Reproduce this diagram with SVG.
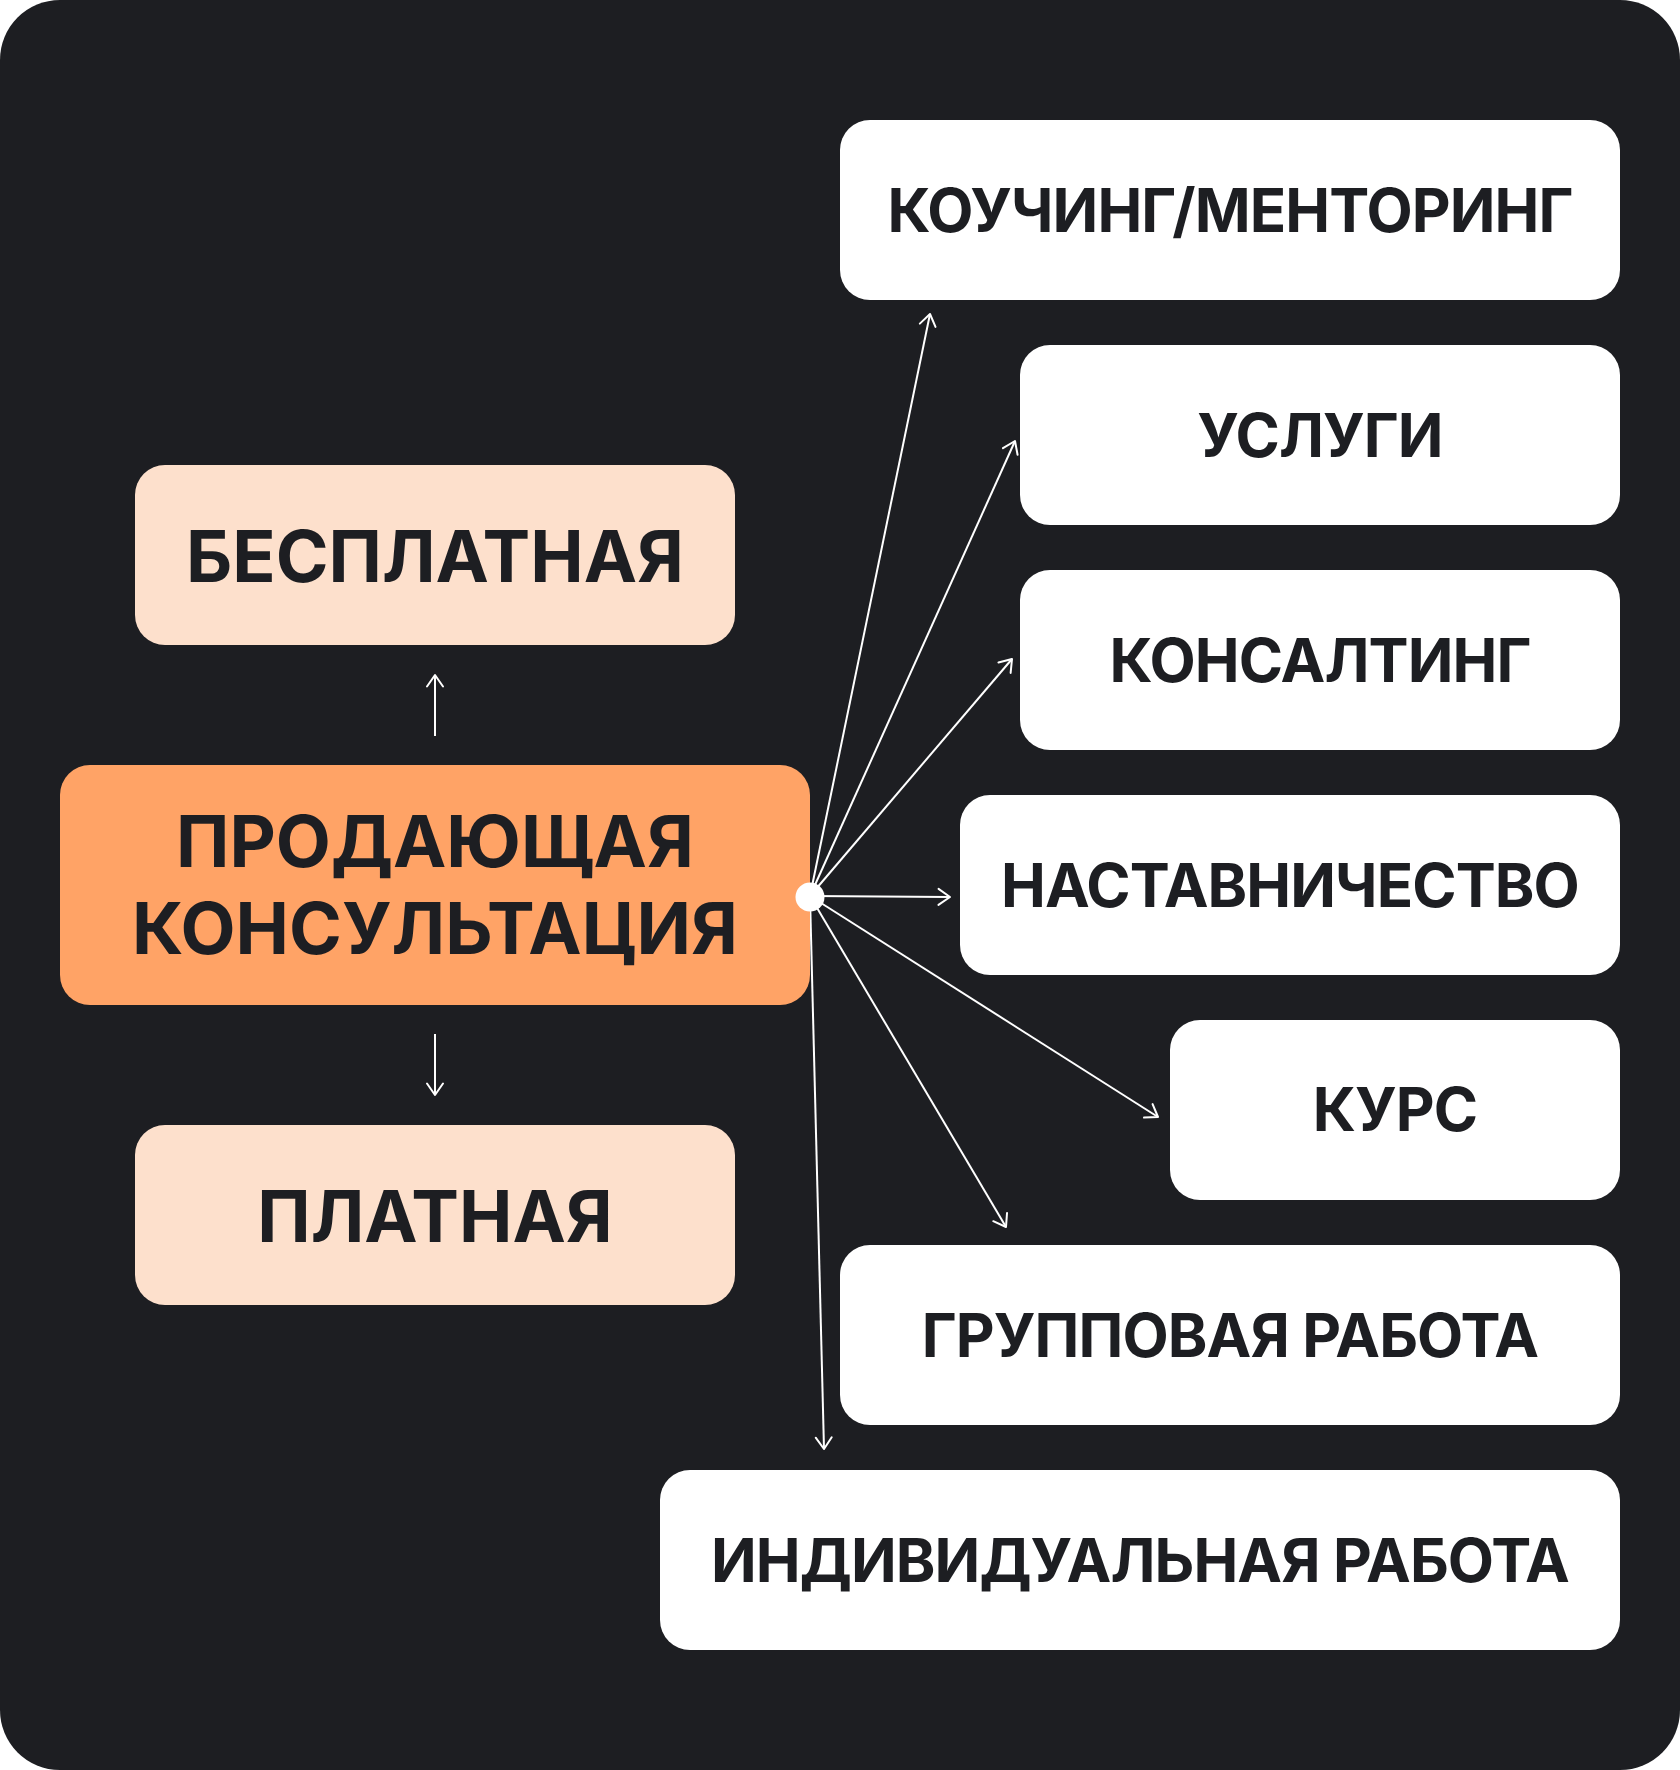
<svg xmlns="http://www.w3.org/2000/svg" width="1680" height="1770" viewBox="0 0 1680 1770">
  <style>
    .lbl { font-family: Inter, "Liberation Sans", sans-serif; font-weight: 700; fill: #1d1e22; text-anchor: middle; }
    .big { font-size: 71.5px; }
    .sm { font-size: 60px; letter-spacing: -0.9px; }
    .white { fill: #ffffff; }
    .peach { fill: #fde0cc; }
    .orange { fill: #ffa366; }
    .conn { stroke: #ffffff; stroke-width: 2; fill: none; marker-end: url(#arr); }
  </style>
  <defs>
    <marker id="arr" markerUnits="userSpaceOnUse" markerWidth="30" markerHeight="30" refX="0" refY="0" viewBox="-15 -15 30 30" orient="auto">
      <path d="M-11.5,-8 L0,0 L-11.5,8" fill="none" stroke="#ffffff" stroke-width="2" stroke-linecap="round" stroke-linejoin="round"/>
    </marker>
  </defs>
  <rect x="0" y="0" width="1680" height="1770" fill="#ffffff"/>
  <rect x="0" y="0" width="1680" height="1770" rx="60" ry="60" fill="#1d1e22"/>

  <g id="connectors">
    <line class="conn" x1="435" y1="736" x2="435" y2="675"/>
    <line class="conn" x1="435" y1="1034" x2="435" y2="1095"/>
    <line class="conn" x1="810" y1="896" x2="930" y2="314"/>
    <line class="conn" x1="810" y1="896" x2="1015" y2="441"/>
    <line class="conn" x1="810" y1="896" x2="1012" y2="659"/>
    <line class="conn" x1="810" y1="896" x2="950" y2="897"/>
    <line class="conn" x1="810" y1="896" x2="1158" y2="1117"/>
    <line class="conn" x1="810" y1="896" x2="1006" y2="1227"/>
    <line class="conn" x1="810" y1="896" x2="824" y2="1449"/>
  </g>

  <g id="node-free">
    <rect class="peach" x="135" y="465" width="600" height="180" rx="30"/>
    <text class="lbl big" x="435" y="582">БЕСПЛАТНАЯ</text>
  </g>
  <g id="node-paid">
    <rect class="peach" x="135" y="1125" width="600" height="180" rx="30"/>
    <text class="lbl big" x="435" y="1242">ПЛАТНАЯ</text>
  </g>
  <g id="node-main">
    <rect class="orange" x="60" y="765" width="750" height="240" rx="30"/>
    <text class="lbl big" x="435" y="867">ПРОДАЮЩАЯ</text>
    <text class="lbl big" x="435" y="954">КОНСУЛЬТАЦИЯ</text>
  </g>
  <g id="hub">
    <circle cx="810" cy="897" r="14.5" fill="#ffffff"/>
  </g>

  <g id="node-coaching">
    <rect class="white" x="840" y="120" width="780" height="180" rx="30"/>
    <text class="lbl sm" x="1230" y="231.5">КОУЧИНГ/МЕНТОРИНГ</text>
  </g>
  <g id="node-services">
    <rect class="white" x="1020" y="345" width="600" height="180" rx="30"/>
    <text class="lbl sm" x="1320" y="456.5">УСЛУГИ</text>
  </g>
  <g id="node-consulting">
    <rect class="white" x="1020" y="570" width="600" height="180" rx="30"/>
    <text class="lbl sm" x="1320" y="681.5">КОНСАЛТИНГ</text>
  </g>
  <g id="node-mentoring">
    <rect class="white" x="960" y="795" width="660" height="180" rx="30"/>
    <text class="lbl sm" x="1290" y="906.5">НАСТАВНИЧЕСТВО</text>
  </g>
  <g id="node-course">
    <rect class="white" x="1170" y="1020" width="450" height="180" rx="30"/>
    <text class="lbl sm" x="1395" y="1131">КУРС</text>
  </g>
  <g id="node-group">
    <rect class="white" x="840" y="1245" width="780" height="180" rx="30"/>
    <text class="lbl sm" x="1230" y="1356.5">ГРУППОВАЯ РАБОТА</text>
  </g>
  <g id="node-individual">
    <rect class="white" x="660" y="1470" width="960" height="180" rx="30"/>
    <text class="lbl sm" x="1140" y="1581.5">ИНДИВИДУАЛЬНАЯ РАБОТА</text>
  </g>
</svg>
